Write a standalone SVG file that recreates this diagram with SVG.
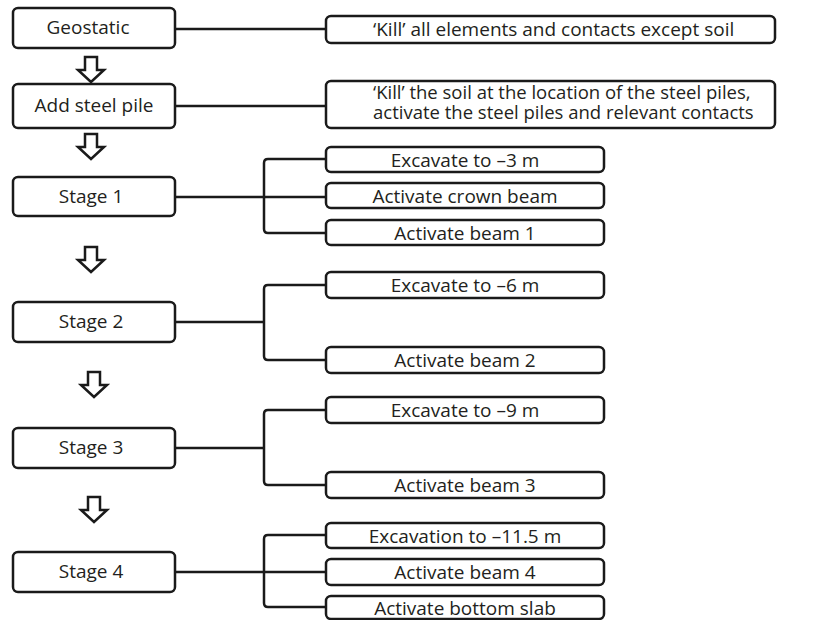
<svg xmlns="http://www.w3.org/2000/svg" xmlns:xlink="http://www.w3.org/1999/xlink" width="834" height="620" viewBox="0 0 834 620">
<style>
.box{fill:#fff;stroke:#1a1a1a;stroke-width:2.5}
.t{font-family:"Open Sans","Noto Sans","Liberation Sans",sans-serif;font-size:19px;fill:#231f20}
.t2{font-size:18.5px}
.c{text-anchor:middle}
.ln{fill:none;stroke:#1a1a1a;stroke-width:2.5;stroke-linejoin:round}
.ar{fill:#fff;stroke:#1a1a1a;stroke-width:2.5;stroke-linejoin:miter}
</style>
<defs>
<path id="arrow" class="ar" d="M-6,0 H6 V13 H13 L0,25 L-13,13 H-6 Z"/>
</defs>
<rect width="834" height="620" fill="#fff"/>
<g id="connectors">
<path class="ln" d="M175,29 H326"/>
<path class="ln" d="M175,106 H326"/>
<path class="ln" d="M175,197 H326 M326,159 H268 Q264,159 264,163 V229 Q264,233 268,233 H326"/>
<path class="ln" d="M175,322 H264 M326,285 H268 Q264,285 264,289 V356 Q264,360 268,360 H326"/>
<path class="ln" d="M175,448 H264 M326,410 H268 Q264,410 264,414 V481 Q264,485 268,485 H326"/>
<path class="ln" d="M175,572 H326 M326,535 H268 Q264,535 264,539 V603 Q264,607 268,607 H326"/>
<use xlink:href="#arrow" x="91" y="57"/>
<use xlink:href="#arrow" x="91" y="134"/>
<use xlink:href="#arrow" x="91" y="247"/>
<use xlink:href="#arrow" x="94" y="372"/>
<use xlink:href="#arrow" x="94" y="497"/>
</g>
<g id="geostatic"><rect class="box" x="13" y="8" width="162" height="40" rx="5"/><text class="t c" x="88" y="34">Geostatic</text></g>
<g id="add-steel-pile"><rect class="box" x="13" y="84" width="162" height="44" rx="5"/><text class="t c" x="94" y="112">Add steel pile</text></g>
<g id="stage1"><rect class="box" x="13" y="177" width="162" height="39" rx="5"/><text class="t c" x="91" y="203">Stage 1</text></g>
<g id="stage2"><rect class="box" x="13" y="302" width="162" height="40" rx="5"/><text class="t c" x="91" y="328">Stage 2</text></g>
<g id="stage3"><rect class="box" x="13" y="428" width="162" height="40" rx="5"/><text class="t c" x="91" y="454">Stage 3</text></g>
<g id="stage4"><rect class="box" x="13" y="552" width="162" height="40" rx="5"/><text class="t c" x="91" y="578">Stage 4</text></g>
<g id="kill-all"><rect class="box" x="326" y="16" width="449" height="27" rx="5"/><text class="t" x="373" y="36">‘Kill’ all elements and contacts except soil</text></g>
<g id="kill-soil"><rect class="box" x="326" y="81" width="449" height="47" rx="5"/><text class="t t2" x="373" y="99">‘Kill’ the soil at the location of the steel piles,</text><text class="t t2" x="373" y="119">activate the steel piles and relevant contacts</text></g>
<g id="exc3"><rect class="box" x="326" y="147" width="278" height="25" rx="5"/><text class="t c" x="465" y="167">Excavate to –3 m</text></g>
<g id="crown"><rect class="box" x="326" y="183" width="278" height="25" rx="5"/><text class="t c" x="465" y="203">Activate crown beam</text></g>
<g id="beam1"><rect class="box" x="326" y="220" width="278" height="25" rx="5"/><text class="t c" x="465" y="240">Activate beam 1</text></g>
<g id="exc6"><rect class="box" x="326" y="272" width="278" height="26" rx="5"/><text class="t c" x="465" y="292">Excavate to –6 m</text></g>
<g id="beam2"><rect class="box" x="326" y="347" width="278" height="26" rx="5"/><text class="t c" x="465" y="367">Activate beam 2</text></g>
<g id="exc9"><rect class="box" x="326" y="397" width="278" height="26" rx="5"/><text class="t c" x="465" y="417">Excavate to –9 m</text></g>
<g id="beam3"><rect class="box" x="326" y="472" width="278" height="26" rx="5"/><text class="t c" x="465" y="492">Activate beam 3</text></g>
<g id="exc115"><rect class="box" x="326" y="523" width="278" height="25" rx="5"/><text class="t c" x="465" y="543">Excavation to –11.5 m</text></g>
<g id="beam4"><rect class="box" x="326" y="559" width="278" height="26" rx="5"/><text class="t c" x="465" y="579">Activate beam 4</text></g>
<g id="slab"><rect class="box" x="326" y="596" width="278" height="23" rx="5"/><text class="t c" x="465" y="615">Activate bottom slab</text></g>
</svg>
